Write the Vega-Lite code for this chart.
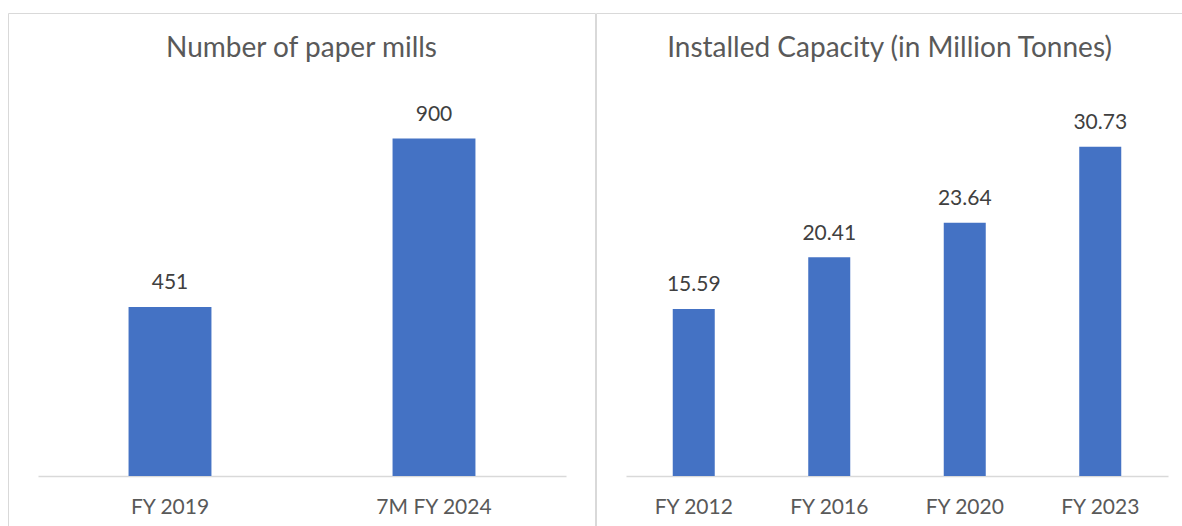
{
  "$schema": "https://vega.github.io/schema/vega-lite/v6.json",
  "background": "white",
  "padding": {"left": 7, "top": 12, "right": 0, "bottom": 0},
  "spacing": -2,
  "config": {
    "view": {"stroke": "#d9d9d9", "strokeWidth": 1},
    "font": "Lato",
    "title": {"font": "Lato", "fontSize": 28, "fontWeight": "normal", "color": "#595959", "frame": "group", "anchor": "middle", "baseline": "alphabetic", "offset": -50},
    "axisX": {
      "title": null, "ticks": false, "tickSize": 0, "grid": false,
      "domainColor": "#d9d9d9", "domainWidth": 1.5,
      "labelFont": "Lato", "labelFontSize": 21, "labelColor": "#595959",
      "labelPadding": 20, "labelAngle": 0, "offset": -51
    }
  },
  "hconcat": [
    {
      "width": 587,
      "height": 514,
      "title": "Number of paper mills",
      "data": {"values": [
        {"period": "FY 2019", "mills": 451},
        {"period": "7M FY 2024", "mills": 900}
      ]},
      "encoding": {
        "x": {"field": "period", "type": "nominal", "sort": null,
              "scale": {"range": [30, 558], "paddingInner": 0.686, "paddingOuter": 0.343}},
        "y": {"field": "mills", "type": "quantitative", "axis": null,
              "scale": {"domain": [0, 1000], "range": [463, 88], "nice": false}}
      },
      "layer": [
        {"mark": {"type": "bar", "color": "#4472C4"}},
        {"mark": {"type": "text", "baseline": "alphabetic", "dy": -18, "fontSize": 21, "color": "#404040", "font": "Lato"},
         "encoding": {"text": {"field": "mills", "type": "quantitative"}}}
      ]
    },
    {
      "width": 587,
      "height": 514,
      "title": "Installed Capacity (in Million Tonnes)",
      "data": {"values": [
        {"year": "FY 2012", "capacity": 15.59},
        {"year": "FY 2016", "capacity": 20.41},
        {"year": "FY 2020", "capacity": 23.64},
        {"year": "FY 2023", "capacity": 30.73}
      ]},
      "encoding": {
        "x": {"field": "year", "type": "nominal", "sort": null,
              "scale": {"range": [30, 572], "paddingInner": 0.69, "paddingOuter": 0.345}},
        "y": {"field": "capacity", "type": "quantitative", "axis": null,
              "scale": {"domain": [0, 35], "range": [463, 88], "nice": false}}
      },
      "layer": [
        {"mark": {"type": "bar", "color": "#4472C4"}},
        {"mark": {"type": "text", "baseline": "alphabetic", "dy": -17.5, "fontSize": 21, "color": "#404040", "font": "Lato"},
         "encoding": {"text": {"field": "capacity", "type": "quantitative", "format": ".2f"}}}
      ]
    }
  ]
}
